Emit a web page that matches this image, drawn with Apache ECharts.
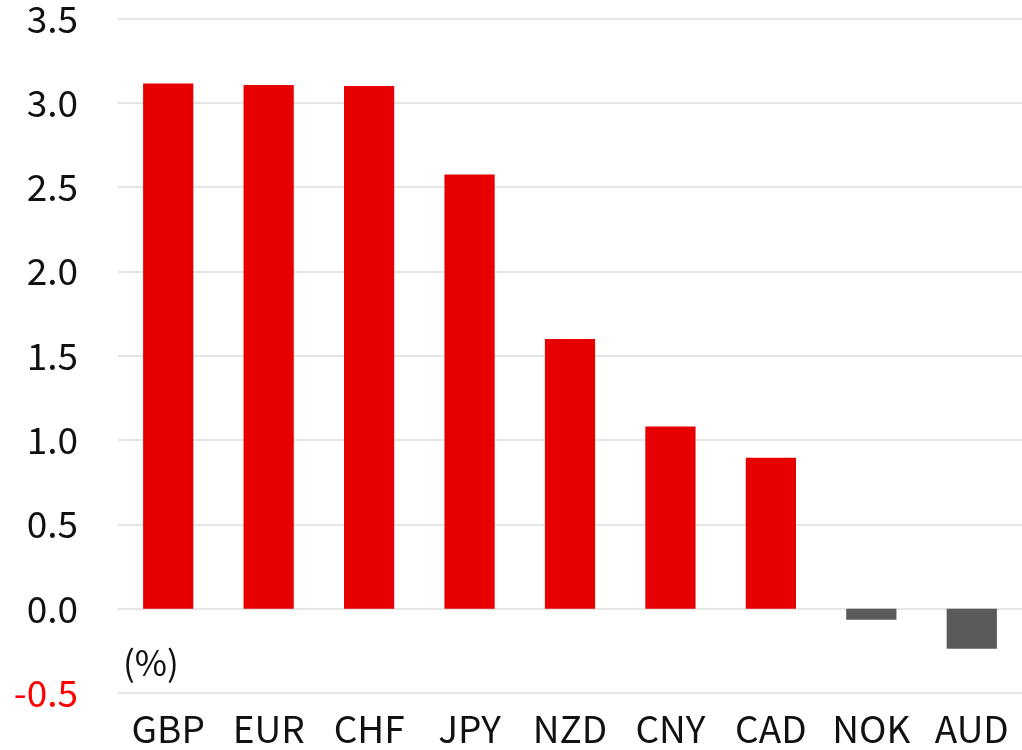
<!DOCTYPE html>
<html><head><meta charset="utf-8">
<script src="https://cdn.jsdelivr.net/npm/echarts@6/dist/echarts.min.js"></script>
<style>html,body{margin:0;padding:0;background:#fff}#c{width:1022px;height:750px}</style>
</head><body><div id="c"></div>
<script>
const categories = ['GBP','EUR','CHF','JPY','NZD','CNY','CAD','NOK','AUD'];
const values = [3.115, 3.105, 3.10, 2.575, 1.60, 1.08, 0.895, -0.065, -0.238];
const yMin = -0.5, yMax = 3.5, yStep = 0.5;
const unitLabel = '(%)';

const FONT = '"Noto Sans CJK JP", "Noto Sans", sans-serif';
const chart = echarts.init(document.getElementById('c'), null, {renderer:'canvas'});
chart.setOption({
  animation:false,
  grid:{left:118,right:0,top:16,bottom:57,containLabel:false},
  xAxis:{type:'category',data:categories,
    axisLine:{show:false},axisTick:{show:false},
    axisLabel:{interval:0,fontSize:37,color:'#111',fontFamily:FONT,margin:17}},
  yAxis:{type:'value',min:yMin,max:yMax,interval:yStep,
    axisLine:{show:false},axisTick:{show:false},
    splitLine:{lineStyle:{color:'#dcdcdc',width:1.5}},
    axisLabel:{fontSize:37,fontFamily:FONT,margin:40,
      formatter:v=>v.toFixed(1),
      color:v=>(Number(v)<0?'#ff0000':'#111')}},
  series:[{type:'bar',barWidth:'50%',
    data:values.map(v=>({value:v,itemStyle:{color:v<0?'#5a5a5a':'#e60000'}}))}],
  graphic:[{type:'text',left:123,top:645,style:{text:unitLabel,fontSize:35,fontFamily:FONT,fill:'#111'}}]
});
</script></body></html>
